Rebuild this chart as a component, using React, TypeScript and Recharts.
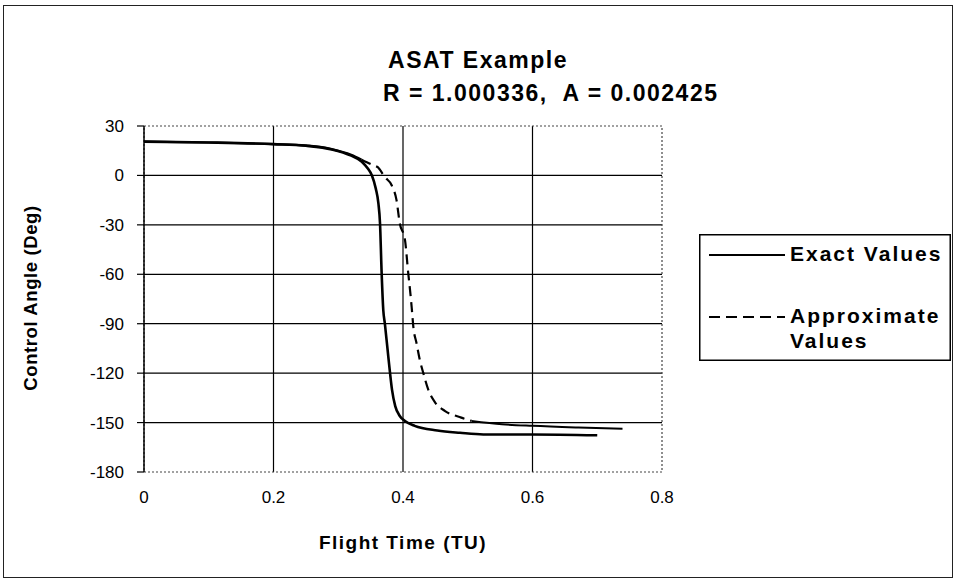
import { CartesianGrid, Line, LineChart, ReferenceArea, XAxis, YAxis } from 'recharts'

// flight time (TU) vs control angle (deg)
const exactTime = [
  0, 0.1, 0.2, 0.25, 0.29, 0.32, 0.336, 0.346, 0.352, 0.358, 0.362, 0.3645, 0.367, 0.3696, 0.372,
  0.376, 0.38, 0.383, 0.388, 0.395, 0.403, 0.418, 0.453, 0.488, 0.524, 0.6, 0.7,
]
const exactAngle = [
  20.5, 20, 19, 18, 15.8, 12, 8.5, 4, 0, -8, -17, -29, -59, -82, -90,
  -105, -120, -130, -140, -146, -149, -152, -154.8, -156.2, -157.2, -157.2, -157.7,
]

const approxTime = [
  0, 0.1, 0.2, 0.25, 0.29, 0.32, 0.336, 0.352, 0.361, 0.372, 0.3825, 0.39, 0.395, 0.403, 0.408,
  0.4115, 0.4134, 0.416, 0.421, 0.426, 0.4314, 0.439, 0.45, 0.465, 0.49, 0.506, 0.553, 0.6, 0.671, 0.739,
]
const approxAngle = [
  20.5, 20, 19, 18.2, 16, 12.5, 9.5, 6.5, 5, -1, -6, -15, -29, -39, -59,
  -72, -80, -92, -102, -112, -120, -130, -138, -143, -147, -149, -151, -152, -153, -153.7,
]

const xTicks = [0, 0.2, 0.4, 0.6, 0.8]
const yTicks = [-180, -150, -120, -90, -60, -30, 0, 30]

const exactData = exactTime.map((x, i) => ({ x, y: exactAngle[i] }))
const approxData = approxTime.map((x, i) => ({ x, y: approxAngle[i] }))
// Excel draws the dense ends of the dashed series as if solid
const approxHead = approxData.filter((d) => d.x <= 0.336)
const approxMid = approxData.filter((d) => d.x >= 0.336 && d.x <= 0.506)
const approxTail = approxData.filter((d) => d.x >= 0.506)

const font = '"Liberation Sans", Arial, sans-serif'

function ChartLegend() {
  const txt = { fontFamily: font, fontWeight: 700, fontSize: 21, letterSpacing: 2, fill: '#000' }
  return (
    <svg width={252} height={127} style={{ display: 'block' }}>
      <rect x={0.75} y={0.75} width={250.5} height={125.5} fill="#fff" stroke="#000" strokeWidth={1.5} />
      <line x1={10} x2={86} y1={21} y2={21} stroke="#000" strokeWidth={2} />
      <text x={91} y={27} {...txt}>Exact Values</text>
      <line x1={10} x2={86} y1={83} y2={83} stroke="#000" strokeWidth={2} strokeDasharray="11 6" />
      <text x={91} y={89} {...txt}>Approximate</text>
      <text x={91} y={114} {...txt}>Values</text>
    </svg>
  )
}

export default function App() {
  const titleStyle = { fontWeight: 700, fontSize: 23, letterSpacing: 1.5, lineHeight: '33px', whiteSpace: 'pre' as const }
  return (
    <div style={{ position: 'absolute', left: 0, top: 0, width: 956, height: 580, background: '#fff', fontFamily: font }}>
      <div style={{ position: 'absolute', left: 3, top: 5, width: 948, height: 571, border: '1.5px solid #222' }} />
      <div style={{ ...titleStyle, position: 'absolute', left: 0, width: 956, top: 44, textAlign: 'center' }}>
        ASAT Example
      </div>
      <div style={{ ...titleStyle, position: 'absolute', left: 383, top: 77 }}>
        {'R = 1.000336,  A = 0.002425'}
      </div>
      <div
        style={{
          position: 'absolute', left: 403 - 150, width: 300, top: 532, textAlign: 'center',
          fontWeight: 700, fontSize: 19, letterSpacing: 1.5,
        }}
      >
        Flight Time (TU)
      </div>
      <div
        style={{
          position: 'absolute', left: 32 - 150, top: 298 - 12, width: 300, height: 24, textAlign: 'center',
          fontWeight: 700, fontSize: 18.5, letterSpacing: 0.6, transform: 'rotate(-90deg)',
        }}
      >
        Control Angle (Deg)
      </div>
      <div style={{ position: 'absolute', left: 0, top: 0 }}>
        <LineChart width={956} height={580} margin={{ top: 126, right: 294, bottom: 78, left: 0 }}>
          <CartesianGrid
            stroke="#000"
            strokeWidth={1.2}
            horizontalValues={[-150, -120, -90, -60, -30, 0]}
            verticalValues={[0.2, 0.4, 0.6]}
          />
          <ReferenceArea x1={0} x2={0.8} y1={-180} y2={30} fill="none" stroke="#444" strokeWidth={1.2} strokeDasharray="2 2" />
          <XAxis
            type="number"
            dataKey="x"
            domain={[0, 0.8]}
            ticks={xTicks}
            height={30}
            axisLine={false}
            tickLine={false}
            tickSize={8}
            tickMargin={11}
            tick={{ fill: '#000', fontSize: 17, fontFamily: font }}
          />
          <YAxis
            type="number"
            domain={[-180, 30]}
            ticks={yTicks}
            width={144}
            axisLine={{ stroke: '#000', strokeWidth: 1.5 }}
            tickLine={{ stroke: '#000', strokeWidth: 1.2 }}
            tickSize={7}
            tickMargin={13}
            tick={{ fill: '#000', fontSize: 17, fontFamily: font }}
          />
          <Line data={exactData} dataKey="y" name="Exact Values" type="monotone" stroke="#000" strokeWidth={2.6} dot={false} isAnimationActive={false} />
          <Line data={approxHead} dataKey="y" name="Approximate Values" type="monotone" stroke="#000" strokeWidth={2.2} dot={false} isAnimationActive={false} />
          <Line data={approxMid} dataKey="y" name="Approximate Values (mid)" type="monotone" stroke="#000" strokeWidth={2.2} strokeDasharray="10 6" dot={false} isAnimationActive={false} />
          <Line data={approxTail} dataKey="y" name="Approximate Values (tail)" type="monotone" stroke="#000" strokeWidth={2} dot={false} isAnimationActive={false} />
        </LineChart>
      </div>
      <div style={{ position: 'absolute', left: 699, top: 234 }}>
        <ChartLegend />
      </div>
    </div>
  )
}
